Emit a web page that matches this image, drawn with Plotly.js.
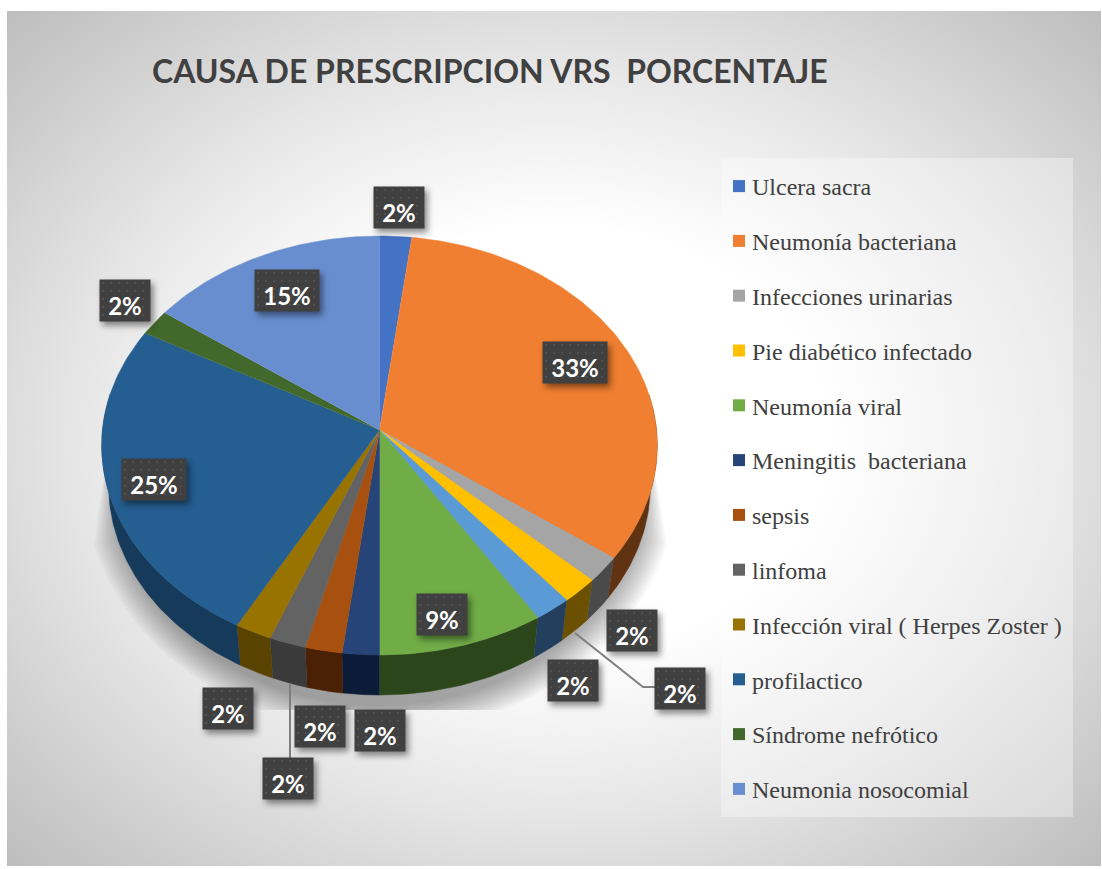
<!DOCTYPE html>
<html>
<head>
<meta charset="utf-8">
<script src="https://cdn.plot.ly/plotly-3.0.1.min.js"></script>
<style>
  html, body { margin: 0; padding: 0; background: #fff; }
  #frame {
    position: absolute; left: 7px; top: 11px; width: 1094px; height: 855px;
    background: radial-gradient(ellipse farthest-corner at 50% 50%, #ffffff 35%, #e6e6e6 62%, #bdbdbd 100%);
  }
  #chart { position: absolute; left: 0; top: 0; width: 1102px; height: 869px; }
  g.annotation rect.bg {
    fill: url(#dots) !important; fill-opacity: 1 !important;
    filter: drop-shadow(3px 4px 3px rgba(0,0,0,0.45));
  }
  g.legend .legendpoints { transform: translate(7px, 0); }
</style>
</head>
<body>
<svg width="0" height="0" style="position:absolute">
  <defs>
    <pattern id="dots" width="8" height="8" patternUnits="userSpaceOnUse">
      <rect width="8" height="8" fill="#404040"></rect>
      <circle cx="4" cy="4" r="1" fill="#555555"></circle>
    </pattern>
  </defs>
</svg>
<div id="frame"></div>
<div id="chart"></div>
<script>
// Slices clockwise from 12 o'clock, percentages as printed on the labels
const sliceNames = ['Ulcera sacra', 'Neumonía bacteriana', 'Infecciones urinarias', 'Pie diabético infectado', '',
    'Neumonía viral', 'Meningitis  bacteriana', 'sepsis', 'linfoma', 'Infección viral ( Herpes Zoster )',
    'profilactico', 'Síndrome nefrótico', 'Neumonia nosocomial'];
const slicePercent = [2, 33, 2, 2, 2, 9, 2, 2, 2, 2, 25, 2, 15];
const topColors = ['#4472C4', '#F07F31', '#A5A5A5', '#FFC000', '#5B9BD5', '#70AD47', '#264478', '#A8500F',
    '#636363', '#997300', '#255E91', '#43682B', '#698ED0'];
const wallColors = ['#223962', '#5F3212', '#4A4A4A', '#6A5000', '#233F5D', '#2C461C', '#0C1C38', '#4A2105',
    '#3A3A3A', '#5A4300', '#163A5A', '#2A4118', '#34476A'];

// Label boxes: centre in page pixels
const labelX = [398.5, 575, 632, 680, 573, 442, 380, 320, 288, 228, 153.5, 125, 287];
const labelY = [207.5, 362, 630, 688, 680, 614, 730, 726, 778, 708, 480, 300, 290];

const W = 1102, H = 869;
// Ellipse of the top face in page pixels, everything else is in axis units
const cx = 379.5, cy = 445.5, rx = 277, ry = 209.5;
const tilt = (cy - 430) / ry; // the centre of the pie sits above the centre of the ellipse
const depth = 40 / ry;
const wallShrink = 0.975;

const xRange = [(0 - cx) / rx, (W - cx) / rx];
const yRange = [(cy - H) / ry, cy / ry];
const shadowFloor = (cy - 710) / ry;

function rimAngles(start, end) {
    const out = [];
    for (let a = start; a < end; a += 1) out.push(a);
    out.push(end);
    return out.map(a => a * Math.PI / 180);
}
// Perspective: angle on the real circle to a point on the drawn ellipse
const rimX = t => Math.sin(t) / (1 + tilt * Math.cos(t));
const rimY = t => (Math.cos(t) + tilt) / (1 + tilt * Math.cos(t));

const traces = [];

// Soft shadow under the pie, tapers up behind the sides
[1.07, 1.06, 1.05, 1.04, 1.03, 1.02, 1.01, 1.0, 0.99, 0.98, 0.97, 0.96].forEach(scale => {
    const angles = rimAngles(105, 255);
    traces.push({
        x: [0.98].concat(angles.map(t => scale * Math.sin(t) + 0.003), [-0.98]),
        y: [0].concat(angles.map(t => Math.max(shadowFloor, -0.16 + scale * 1.13 * Math.cos(t))), [0]),
        mode: 'lines', fill: 'toself', fillcolor: 'rgba(0,0,0,0.03)',
        line: { width: 0 }, showlegend: false, hoverinfo: 'skip'
    });
});

// Cumulative angles
const total = slicePercent.reduce((a, b) => a + b, 0);
let running = 0;
const spans = slicePercent.map(v => {
    const s = running / total * 360;
    running += v;
    return [s, running / total * 360];
});

// Side walls first, top face hides whatever is behind it
spans.forEach((sp, i) => {
    const start = Math.max(sp[0], 80), end = Math.min(sp[1], 280);
    if (end <= start) return;
    const angles = rimAngles(start, end);
    const upperX = angles.map(rimX);
    const upperY = angles.map(rimY);
    const lowerX = upperX.map(v => v * wallShrink).reverse();
    const lowerY = upperY.map(v => v - depth).reverse();
    traces.push({
        x: upperX.concat(lowerX), y: upperY.concat(lowerY),
        mode: 'lines', fill: 'toself', fillcolor: wallColors[i],
        line: { width: 0.5, color: wallColors[i] }, showlegend: false, hoverinfo: 'skip'
    });
});

// Top face
spans.forEach((sp, i) => {
    const angles = rimAngles(sp[0], sp[1]);
    traces.push({
        x: [0].concat(angles.map(rimX)),
        y: [tilt].concat(angles.map(rimY)),
        mode: 'lines', fill: 'toself', fillcolor: topColors[i],
        line: { width: 0.5, color: topColors[i] },
        name: sliceNames[i], showlegend: false,
        hovertemplate: sliceNames[i] + ': ' + slicePercent[i] + '%<extra></extra>'
    });
});

// Legend entries, the unnamed slice has none
sliceNames.forEach((name, i) => {
    if (!name) return;
    traces.push({
        x: [null], y: [null], mode: 'markers', name: name, legendgroup: name,
        marker: { symbol: 'square', size: 12, color: topColors[i] }
    });
});

const annotations = slicePercent.map((v, i) => ({
    xref: 'paper', yref: 'paper',
    x: labelX[i] / W, y: 1 - labelY[i] / H,
    xanchor: 'center', yanchor: 'middle',
    text: '<b>' + v + '%</b>', showarrow: false,
    width: v > 9 ? 62 : 48, height: 39, valign: 'bottom',
    bgcolor: '#404040', borderpad: 1,
    font: { family: 'Lato, sans-serif', size: 24, color: '#ffffff' }
}));

const pxRect = (x0, y0, x1, y1) => ({ x0: x0 / W, x1: x1 / W, y0: 1 - y0 / H, y1: 1 - y1 / H });
const leaderPath = pts => 'M' + pts.map(p => (p[0] / W) + ',' + (1 - p[1] / H)).join('L');

const layout = {
    width: W, height: H,
    margin: { l: 0, r: 0, t: 0, b: 0 },
    paper_bgcolor: 'rgba(0,0,0,0)',
    plot_bgcolor: 'rgba(0,0,0,0)',
    title: {
        text: '<b>CAUSA DE PRESCRIPCION VRS  PORCENTAJE</b>',
        font: { family: 'Lato, sans-serif', size: 32, color: '#404040' },
        x: 152 / W, xanchor: 'left', y: 1 - 72 / H, yanchor: 'middle'
    },
    xaxis: { visible: false, range: xRange, fixedrange: true },
    yaxis: { visible: false, range: yRange, fixedrange: true },
    showlegend: true,
    legend: {
        x: 712 / W, xanchor: 'left', y: 1 - 164 / H, yanchor: 'top',
        bgcolor: 'rgba(0,0,0,0)', tracegroupgap: 20.6, traceorder: 'grouped',
        itemwidth: 30, itemclick: false, itemdoubleclick: false,
        font: { family: 'Liberation Serif, serif', size: 24, color: '#404040' }
    },
    shapes: [
        Object.assign({ type: 'rect', xref: 'paper', yref: 'paper', layer: 'below',
            fillcolor: 'rgba(255,255,255,0.35)', line: { width: 0 } }, pxRect(721, 158, 1073, 817)),
        { type: 'path', xref: 'paper', yref: 'paper', line: { color: '#7F7F7F', width: 2 },
            path: leaderPath([[575, 633], [643, 687], [656, 687]]) },
        { type: 'path', xref: 'paper', yref: 'paper', line: { color: '#7F7F7F', width: 2 },
            path: leaderPath([[290, 683], [290, 758]]) }
    ],
    annotations: annotations
};

Plotly.newPlot('chart', traces, layout, { displayModeBar: false });
</script>
</body>
</html>
